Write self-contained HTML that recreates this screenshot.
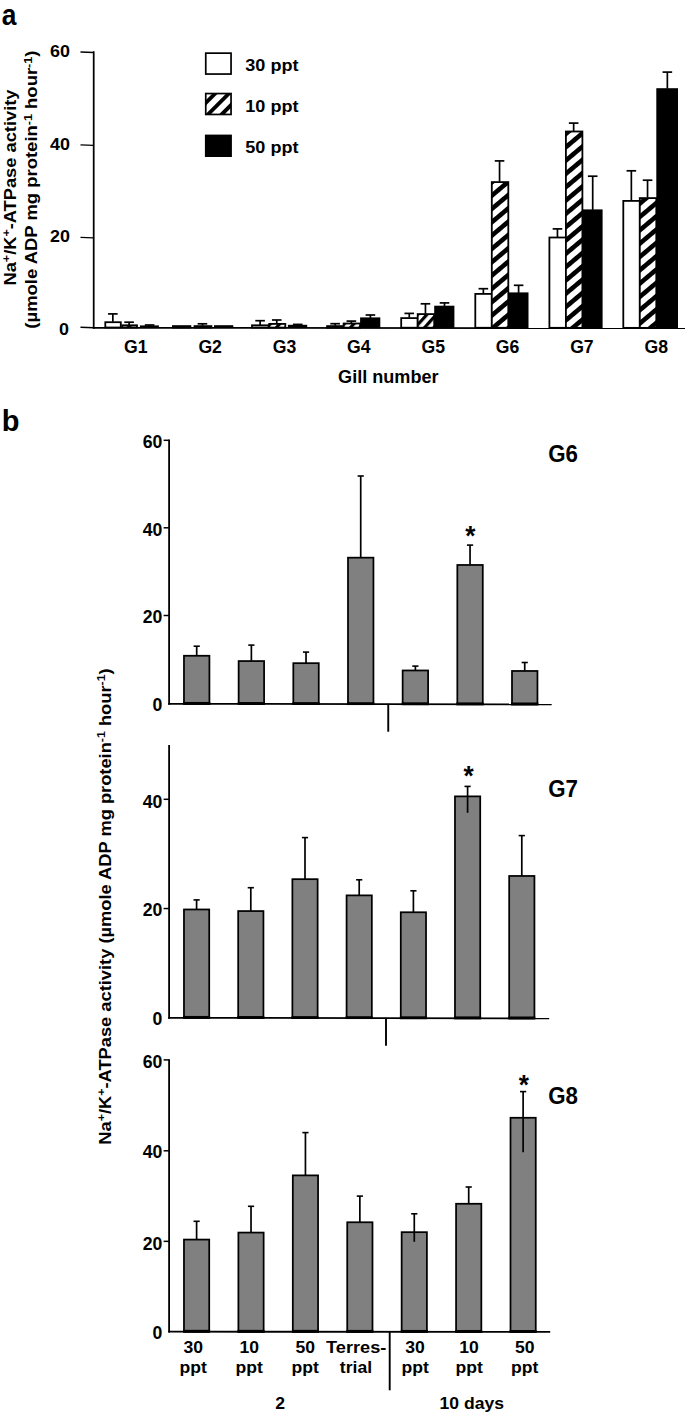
<!DOCTYPE html>
<html lang="en">
<head>
<meta charset="utf-8">
<title>Na+/K+-ATPase activity</title>
<style>
html,body{margin:0;padding:0;background:#fff;}
body{width:685px;height:1413px;overflow:hidden;}
svg{display:block;}
svg text{font-family:"Liberation Sans", Arial, Helvetica, sans-serif;fill:#000;}
</style>
</head>
<body>
<svg width="685" height="1413" viewBox="0 0 685 1413">
<defs>
<pattern id="hL" patternUnits="userSpaceOnUse" width="20" height="9.7" patternTransform="rotate(-45) translate(0,2.92)"><rect x="0" y="0" width="20" height="9.7" fill="#fff"/><rect x="0" y="0" width="20" height="3.9" fill="#000"/></pattern>
<pattern id="h0" patternUnits="userSpaceOnUse" width="20" height="7.0" patternTransform="rotate(-48) translate(0,4.87)"><rect x="0" y="0" width="20" height="7.0" fill="#fff"/><rect x="0" y="0" width="20" height="3.2" fill="#000"/></pattern>
<pattern id="h1" patternUnits="userSpaceOnUse" width="20" height="7.0" patternTransform="rotate(-48) translate(0,3.93)"><rect x="0" y="0" width="20" height="7.0" fill="#fff"/><rect x="0" y="0" width="20" height="3.2" fill="#000"/></pattern>
<pattern id="h2" patternUnits="userSpaceOnUse" width="20" height="7.0" patternTransform="rotate(-48) translate(0,3.00)"><rect x="0" y="0" width="20" height="7.0" fill="#fff"/><rect x="0" y="0" width="20" height="3.2" fill="#000"/></pattern>
<pattern id="h3" patternUnits="userSpaceOnUse" width="20" height="7.0" patternTransform="rotate(-48) translate(0,2.07)"><rect x="0" y="0" width="20" height="7.0" fill="#fff"/><rect x="0" y="0" width="20" height="3.2" fill="#000"/></pattern>
<pattern id="h4" patternUnits="userSpaceOnUse" width="20" height="7.0" patternTransform="rotate(-48) translate(0,1.14)"><rect x="0" y="0" width="20" height="7.0" fill="#fff"/><rect x="0" y="0" width="20" height="3.2" fill="#000"/></pattern>
<pattern id="h5" patternUnits="userSpaceOnUse" width="20" height="10.2" patternTransform="rotate(-40) translate(0,4.65)"><rect x="0" y="0" width="20" height="10.2" fill="#fff"/><rect x="0" y="0" width="20" height="4.6" fill="#000"/></pattern>
<pattern id="h6" patternUnits="userSpaceOnUse" width="20" height="10.2" patternTransform="rotate(-40) translate(0,4.95)"><rect x="0" y="0" width="20" height="10.2" fill="#fff"/><rect x="0" y="0" width="20" height="4.6" fill="#000"/></pattern>
<pattern id="h7" patternUnits="userSpaceOnUse" width="20" height="10.2" patternTransform="rotate(-40) translate(0,3.91)"><rect x="0" y="0" width="20" height="10.2" fill="#fff"/><rect x="0" y="0" width="20" height="4.6" fill="#000"/></pattern>
</defs>
<rect x="0" y="0" width="685" height="1413" fill="#fff"/>
<line x1="93.70" y1="51.20" x2="93.70" y2="328.75" stroke="#000" stroke-width="1.75" stroke-linecap="butt"/>
<line x1="93.20" y1="327.90" x2="685.00" y2="328.20" stroke="#000" stroke-width="1.75" stroke-linecap="butt"/>
<line x1="80.50" y1="52.05" x2="93.70" y2="52.55" stroke="#000" stroke-width="1.4" stroke-linecap="butt"/>
<text transform="translate(70.00,57.00) scale(1.03,1)" font-size="17.4" font-weight="bold" text-anchor="end">60</text>
<line x1="80.50" y1="144.90" x2="93.70" y2="145.40" stroke="#000" stroke-width="1.4" stroke-linecap="butt"/>
<text transform="translate(70.00,149.50) scale(1.03,1)" font-size="17.4" font-weight="bold" text-anchor="end">40</text>
<line x1="80.50" y1="237.35" x2="93.70" y2="237.85" stroke="#000" stroke-width="1.4" stroke-linecap="butt"/>
<text transform="translate(70.00,241.90) scale(1.03,1)" font-size="17.4" font-weight="bold" text-anchor="end">20</text>
<line x1="80.50" y1="327.25" x2="93.70" y2="327.75" stroke="#000" stroke-width="1.4" stroke-linecap="butt"/>
<text transform="translate(69.00,334.50) scale(1.03,1)" font-size="17.4" font-weight="bold" text-anchor="end">0</text>
<rect x="205.75" y="53.15" width="25.30" height="20.90" fill="#fff" stroke="#000" stroke-width="1.7"/>
<rect x="205.75" y="93.55" width="25.30" height="20.90" fill="url(#hL)" stroke="#000" stroke-width="1.7"/>
<rect x="205.75" y="135.45" width="25.30" height="20.70" fill="#000" stroke="#000" stroke-width="1.7"/>
<text transform="translate(245.30,71.10) scale(1.095,1)" font-size="16.5" font-weight="bold" text-anchor="start">30 ppt</text>
<text transform="translate(245.30,111.90) scale(1.095,1)" font-size="16.5" font-weight="bold" text-anchor="start">10 ppt</text>
<text transform="translate(245.30,153.20) scale(1.095,1)" font-size="16.5" font-weight="bold" text-anchor="start">50 ppt</text>
<line x1="112.85" y1="313.90" x2="112.85" y2="321.80" stroke="#000" stroke-width="1.7" stroke-linecap="butt"/>
<line x1="108.05" y1="313.90" x2="117.65" y2="313.90" stroke="#000" stroke-width="1.7" stroke-linecap="butt"/>
<line x1="129.10" y1="322.20" x2="129.10" y2="324.90" stroke="#000" stroke-width="1.7" stroke-linecap="butt"/>
<line x1="124.30" y1="322.20" x2="133.90" y2="322.20" stroke="#000" stroke-width="1.7" stroke-linecap="butt"/>
<line x1="149.60" y1="325.00" x2="149.60" y2="325.90" stroke="#000" stroke-width="1.7" stroke-linecap="butt"/>
<line x1="144.80" y1="325.00" x2="154.40" y2="325.00" stroke="#000" stroke-width="1.7" stroke-linecap="butt"/>
<rect x="105.30" y="322.20" width="15.50" height="5.31" fill="#fff" stroke="#000" stroke-width="1.8"/>
<rect x="122.20" y="325.30" width="14.80" height="2.21" fill="url(#h0)" stroke="#000" stroke-width="1.8"/>
<rect x="139.90" y="325.40" width="19.00" height="2.51" fill="#000" stroke="none" stroke-width="0"/>
<text transform="translate(135.80,353.10) scale(0.98,1)" font-size="18.0" font-weight="bold" text-anchor="middle">G1</text>
<line x1="202.45" y1="323.80" x2="202.45" y2="325.70" stroke="#000" stroke-width="1.7" stroke-linecap="butt"/>
<line x1="197.65" y1="323.80" x2="207.25" y2="323.80" stroke="#000" stroke-width="1.7" stroke-linecap="butt"/>
<rect x="172.90" y="326.10" width="17.50" height="1.45" fill="#fff" stroke="#000" stroke-width="1.8"/>
<rect x="194.50" y="326.10" width="16.90" height="1.45" fill="url(#h1)" stroke="#000" stroke-width="1.8"/>
<rect x="214.00" y="325.20" width="19.30" height="2.75" fill="#000" stroke="none" stroke-width="0"/>
<text transform="translate(210.15,353.10) scale(0.98,1)" font-size="18.0" font-weight="bold" text-anchor="middle">G2</text>
<line x1="260.10" y1="320.70" x2="260.10" y2="324.90" stroke="#000" stroke-width="1.7" stroke-linecap="butt"/>
<line x1="255.30" y1="320.70" x2="264.90" y2="320.70" stroke="#000" stroke-width="1.7" stroke-linecap="butt"/>
<line x1="276.75" y1="320.00" x2="276.75" y2="323.50" stroke="#000" stroke-width="1.7" stroke-linecap="butt"/>
<line x1="271.95" y1="320.00" x2="281.55" y2="320.00" stroke="#000" stroke-width="1.7" stroke-linecap="butt"/>
<line x1="297.75" y1="324.40" x2="297.75" y2="325.30" stroke="#000" stroke-width="1.7" stroke-linecap="butt"/>
<line x1="292.95" y1="324.40" x2="302.55" y2="324.40" stroke="#000" stroke-width="1.7" stroke-linecap="butt"/>
<rect x="252.00" y="325.30" width="16.60" height="2.31" fill="#fff" stroke="#000" stroke-width="1.8"/>
<rect x="269.20" y="323.90" width="16.10" height="3.71" fill="url(#h2)" stroke="#000" stroke-width="1.8"/>
<rect x="287.90" y="324.80" width="19.30" height="3.21" fill="#000" stroke="none" stroke-width="0"/>
<text transform="translate(284.50,353.10) scale(0.98,1)" font-size="18.0" font-weight="bold" text-anchor="middle">G3</text>
<line x1="335.15" y1="323.70" x2="335.15" y2="325.70" stroke="#000" stroke-width="1.7" stroke-linecap="butt"/>
<line x1="330.35" y1="323.70" x2="339.95" y2="323.70" stroke="#000" stroke-width="1.7" stroke-linecap="butt"/>
<line x1="351.35" y1="321.10" x2="351.35" y2="323.10" stroke="#000" stroke-width="1.7" stroke-linecap="butt"/>
<line x1="346.55" y1="321.10" x2="356.15" y2="321.10" stroke="#000" stroke-width="1.7" stroke-linecap="butt"/>
<line x1="370.40" y1="315.00" x2="370.40" y2="317.90" stroke="#000" stroke-width="1.7" stroke-linecap="butt"/>
<line x1="365.60" y1="315.00" x2="375.20" y2="315.00" stroke="#000" stroke-width="1.7" stroke-linecap="butt"/>
<rect x="327.10" y="326.10" width="16.50" height="1.56" fill="#fff" stroke="#000" stroke-width="1.8"/>
<rect x="343.60" y="323.50" width="16.50" height="4.16" fill="url(#h3)" stroke="#000" stroke-width="1.8"/>
<rect x="360.10" y="317.40" width="20.20" height="10.66" fill="#000" stroke="none" stroke-width="0"/>
<text transform="translate(358.85,353.10) scale(0.98,1)" font-size="18.0" font-weight="bold" text-anchor="middle">G4</text>
<line x1="409.25" y1="313.40" x2="409.25" y2="317.70" stroke="#000" stroke-width="1.7" stroke-linecap="butt"/>
<line x1="404.45" y1="313.40" x2="414.05" y2="313.40" stroke="#000" stroke-width="1.7" stroke-linecap="butt"/>
<line x1="425.45" y1="303.80" x2="425.45" y2="313.70" stroke="#000" stroke-width="1.7" stroke-linecap="butt"/>
<line x1="420.65" y1="303.80" x2="430.25" y2="303.80" stroke="#000" stroke-width="1.7" stroke-linecap="butt"/>
<line x1="444.50" y1="302.90" x2="444.50" y2="306.20" stroke="#000" stroke-width="1.7" stroke-linecap="butt"/>
<line x1="439.70" y1="302.90" x2="449.30" y2="302.90" stroke="#000" stroke-width="1.7" stroke-linecap="butt"/>
<rect x="401.20" y="318.10" width="16.50" height="9.61" fill="#fff" stroke="#000" stroke-width="1.8"/>
<rect x="417.70" y="314.10" width="16.50" height="13.61" fill="url(#h4)" stroke="#000" stroke-width="1.8"/>
<rect x="434.20" y="305.70" width="20.20" height="22.41" fill="#000" stroke="none" stroke-width="0"/>
<text transform="translate(433.20,353.10) scale(0.98,1)" font-size="18.0" font-weight="bold" text-anchor="middle">G5</text>
<line x1="483.35" y1="288.70" x2="483.35" y2="293.50" stroke="#000" stroke-width="1.7" stroke-linecap="butt"/>
<line x1="478.55" y1="288.70" x2="488.15" y2="288.70" stroke="#000" stroke-width="1.7" stroke-linecap="butt"/>
<line x1="499.55" y1="160.90" x2="499.55" y2="181.70" stroke="#000" stroke-width="1.7" stroke-linecap="butt"/>
<line x1="494.75" y1="160.90" x2="504.35" y2="160.90" stroke="#000" stroke-width="1.7" stroke-linecap="butt"/>
<line x1="518.60" y1="285.30" x2="518.60" y2="292.90" stroke="#000" stroke-width="1.7" stroke-linecap="butt"/>
<line x1="513.80" y1="285.30" x2="523.40" y2="285.30" stroke="#000" stroke-width="1.7" stroke-linecap="butt"/>
<rect x="475.30" y="293.90" width="16.50" height="33.87" fill="#fff" stroke="#000" stroke-width="1.8"/>
<rect x="491.80" y="182.10" width="16.50" height="145.67" fill="url(#h5)" stroke="#000" stroke-width="1.8"/>
<rect x="508.30" y="292.40" width="20.20" height="35.77" fill="#000" stroke="none" stroke-width="0"/>
<text transform="translate(507.55,353.10) scale(0.98,1)" font-size="18.0" font-weight="bold" text-anchor="middle">G6</text>
<line x1="557.45" y1="228.90" x2="557.45" y2="237.10" stroke="#000" stroke-width="1.7" stroke-linecap="butt"/>
<line x1="552.65" y1="228.90" x2="562.25" y2="228.90" stroke="#000" stroke-width="1.7" stroke-linecap="butt"/>
<line x1="573.65" y1="123.10" x2="573.65" y2="131.10" stroke="#000" stroke-width="1.7" stroke-linecap="butt"/>
<line x1="568.85" y1="123.10" x2="578.45" y2="123.10" stroke="#000" stroke-width="1.7" stroke-linecap="butt"/>
<line x1="592.70" y1="176.20" x2="592.70" y2="209.90" stroke="#000" stroke-width="1.7" stroke-linecap="butt"/>
<line x1="587.90" y1="176.20" x2="597.50" y2="176.20" stroke="#000" stroke-width="1.7" stroke-linecap="butt"/>
<rect x="549.40" y="237.50" width="16.50" height="90.32" fill="#fff" stroke="#000" stroke-width="1.8"/>
<rect x="565.90" y="131.50" width="16.50" height="196.32" fill="url(#h6)" stroke="#000" stroke-width="1.8"/>
<rect x="582.40" y="209.40" width="20.20" height="118.82" fill="#000" stroke="none" stroke-width="0"/>
<text transform="translate(581.90,353.10) scale(0.98,1)" font-size="18.0" font-weight="bold" text-anchor="middle">G7</text>
<line x1="631.35" y1="170.80" x2="631.35" y2="200.50" stroke="#000" stroke-width="1.7" stroke-linecap="butt"/>
<line x1="626.55" y1="170.80" x2="636.15" y2="170.80" stroke="#000" stroke-width="1.7" stroke-linecap="butt"/>
<line x1="647.55" y1="180.20" x2="647.55" y2="197.70" stroke="#000" stroke-width="1.7" stroke-linecap="butt"/>
<line x1="642.75" y1="180.20" x2="652.35" y2="180.20" stroke="#000" stroke-width="1.7" stroke-linecap="butt"/>
<line x1="667.35" y1="72.10" x2="667.35" y2="88.70" stroke="#000" stroke-width="1.7" stroke-linecap="butt"/>
<line x1="662.55" y1="72.10" x2="672.15" y2="72.10" stroke="#000" stroke-width="1.7" stroke-linecap="butt"/>
<rect x="623.30" y="200.90" width="16.50" height="126.97" fill="#fff" stroke="#000" stroke-width="1.8"/>
<rect x="639.80" y="198.10" width="16.50" height="129.77" fill="url(#h7)" stroke="#000" stroke-width="1.8"/>
<rect x="656.30" y="88.20" width="21.70" height="240.07" fill="#000" stroke="none" stroke-width="0"/>
<text transform="translate(656.25,353.10) scale(0.98,1)" font-size="18.0" font-weight="bold" text-anchor="middle">G8</text>
<text transform="translate(388.30,383.00) scale(1.028,1)" font-size="17.6" font-weight="bold" text-anchor="middle">Gill number</text>
<text transform="translate(15.50,187.50) rotate(-90) scale(1.095,1)" font-size="16.7" font-weight="bold" text-anchor="middle">Na<tspan font-size="68%" dy="-0.456em">+</tspan><tspan dy="0.31em">/K</tspan><tspan font-size="68%" dy="-0.456em">+</tspan><tspan dy="0.31em">-ATPase activity</tspan></text>
<text transform="translate(36.80,189.60) rotate(-90) scale(1.106,1)" font-size="16.7" font-weight="bold" text-anchor="middle">(µmole ADP mg protein<tspan font-size="68%" dy="-0.456em">-1</tspan><tspan dy="0.31em"> hour</tspan><tspan font-size="68%" dy="-0.456em">-1</tspan><tspan dy="0.31em">)</tspan></text>
<text transform="translate(1.70,24.70) scale(0.88,1)" font-size="30" font-weight="bold" text-anchor="start">a</text>
<text transform="translate(1.70,430.90)" font-size="29" font-weight="bold" text-anchor="start">b</text>
<line x1="169.10" y1="439.50" x2="169.10" y2="704.65" stroke="#000" stroke-width="1.8" stroke-linecap="butt"/>
<line x1="168.20" y1="703.80" x2="551.70" y2="704.45" stroke="#000" stroke-width="1.8" stroke-linecap="butt"/>
<line x1="163.60" y1="440.30" x2="169.10" y2="440.30" stroke="#000" stroke-width="1.5" stroke-linecap="butt"/>
<text transform="translate(162.30,447.70) scale(0.98,1)" font-size="18.0" font-weight="bold" text-anchor="end">60</text>
<line x1="163.60" y1="527.80" x2="169.10" y2="527.80" stroke="#000" stroke-width="1.5" stroke-linecap="butt"/>
<text transform="translate(162.30,535.70) scale(0.98,1)" font-size="18.0" font-weight="bold" text-anchor="end">40</text>
<line x1="163.60" y1="615.50" x2="169.10" y2="615.50" stroke="#000" stroke-width="1.5" stroke-linecap="butt"/>
<text transform="translate(162.30,623.00) scale(0.98,1)" font-size="18.0" font-weight="bold" text-anchor="end">20</text>
<text transform="translate(162.30,710.60) scale(0.98,1)" font-size="18.0" font-weight="bold" text-anchor="end">0</text>
<rect x="183.97" y="655.77" width="25.45" height="48.10" fill="#808080" stroke="#000" stroke-width="1.75"/>
<rect x="183.10" y="701.95" width="27.20" height="2.80" fill="#000" stroke="none" stroke-width="0"/>
<line x1="196.70" y1="646.20" x2="196.70" y2="655.60" stroke="#000" stroke-width="1.7" stroke-linecap="butt"/>
<line x1="193.60" y1="646.20" x2="199.80" y2="646.20" stroke="#000" stroke-width="1.6" stroke-linecap="butt"/>
<rect x="238.64" y="661.07" width="25.45" height="42.89" fill="#808080" stroke="#000" stroke-width="1.75"/>
<rect x="237.77" y="702.04" width="27.20" height="2.80" fill="#000" stroke="none" stroke-width="0"/>
<line x1="251.37" y1="645.10" x2="251.37" y2="660.90" stroke="#000" stroke-width="1.7" stroke-linecap="butt"/>
<line x1="248.27" y1="645.10" x2="254.47" y2="645.10" stroke="#000" stroke-width="1.6" stroke-linecap="butt"/>
<rect x="293.31" y="663.17" width="25.45" height="40.88" fill="#808080" stroke="#000" stroke-width="1.75"/>
<rect x="292.44" y="702.13" width="27.20" height="2.80" fill="#000" stroke="none" stroke-width="0"/>
<line x1="306.04" y1="652.10" x2="306.04" y2="663.00" stroke="#000" stroke-width="1.7" stroke-linecap="butt"/>
<line x1="302.94" y1="652.10" x2="309.14" y2="652.10" stroke="#000" stroke-width="1.6" stroke-linecap="butt"/>
<rect x="347.99" y="557.67" width="25.45" height="146.48" fill="#808080" stroke="#000" stroke-width="1.75"/>
<rect x="347.11" y="702.23" width="27.20" height="2.80" fill="#000" stroke="none" stroke-width="0"/>
<line x1="360.71" y1="476.00" x2="360.71" y2="557.50" stroke="#000" stroke-width="1.7" stroke-linecap="butt"/>
<line x1="357.61" y1="476.00" x2="363.81" y2="476.00" stroke="#000" stroke-width="1.6" stroke-linecap="butt"/>
<rect x="402.65" y="670.47" width="25.45" height="33.77" fill="#808080" stroke="#000" stroke-width="1.75"/>
<rect x="401.78" y="702.32" width="27.20" height="2.80" fill="#000" stroke="none" stroke-width="0"/>
<line x1="415.38" y1="666.10" x2="415.38" y2="670.30" stroke="#000" stroke-width="1.7" stroke-linecap="butt"/>
<line x1="412.28" y1="666.10" x2="418.48" y2="666.10" stroke="#000" stroke-width="1.6" stroke-linecap="butt"/>
<rect x="457.33" y="564.97" width="25.45" height="139.36" fill="#808080" stroke="#000" stroke-width="1.75"/>
<rect x="456.45" y="702.41" width="27.20" height="2.80" fill="#000" stroke="none" stroke-width="0"/>
<line x1="470.05" y1="545.10" x2="470.05" y2="564.80" stroke="#000" stroke-width="1.7" stroke-linecap="butt"/>
<line x1="466.95" y1="545.10" x2="473.15" y2="545.10" stroke="#000" stroke-width="1.6" stroke-linecap="butt"/>
<rect x="512.00" y="670.97" width="25.45" height="33.45" fill="#808080" stroke="#000" stroke-width="1.75"/>
<rect x="511.12" y="702.50" width="27.20" height="2.80" fill="#000" stroke="none" stroke-width="0"/>
<line x1="524.72" y1="662.50" x2="524.72" y2="670.80" stroke="#000" stroke-width="1.7" stroke-linecap="butt"/>
<line x1="521.62" y1="662.50" x2="527.82" y2="662.50" stroke="#000" stroke-width="1.6" stroke-linecap="butt"/>
<line x1="388.25" y1="703.80" x2="388.25" y2="731.70" stroke="#000" stroke-width="1.9" stroke-linecap="butt"/>
<text transform="translate(563.00,462.30) scale(0.91,1)" font-size="24.5" font-weight="bold" text-anchor="middle">G6</text>
<text transform="translate(470.40,544.80) scale(0.97,1)" font-size="27" font-weight="bold" text-anchor="middle">*</text>
<line x1="169.10" y1="745.00" x2="169.10" y2="1018.65" stroke="#000" stroke-width="1.8" stroke-linecap="butt"/>
<line x1="168.20" y1="1017.80" x2="549.20" y2="1018.45" stroke="#000" stroke-width="1.8" stroke-linecap="butt"/>
<line x1="163.60" y1="799.30" x2="169.10" y2="799.30" stroke="#000" stroke-width="1.5" stroke-linecap="butt"/>
<text transform="translate(162.30,807.80) scale(0.98,1)" font-size="18.0" font-weight="bold" text-anchor="end">40</text>
<line x1="163.60" y1="908.55" x2="169.10" y2="908.55" stroke="#000" stroke-width="1.5" stroke-linecap="butt"/>
<text transform="translate(162.30,916.00) scale(0.98,1)" font-size="18.0" font-weight="bold" text-anchor="end">20</text>
<text transform="translate(162.30,1024.85) scale(0.98,1)" font-size="18.0" font-weight="bold" text-anchor="end">0</text>
<rect x="183.97" y="909.47" width="25.25" height="108.40" fill="#808080" stroke="#000" stroke-width="1.75"/>
<rect x="183.10" y="1015.95" width="27.00" height="2.80" fill="#000" stroke="none" stroke-width="0"/>
<line x1="196.60" y1="899.90" x2="196.60" y2="909.30" stroke="#000" stroke-width="1.7" stroke-linecap="butt"/>
<line x1="193.50" y1="899.90" x2="199.70" y2="899.90" stroke="#000" stroke-width="1.6" stroke-linecap="butt"/>
<rect x="238.18" y="911.07" width="25.25" height="106.89" fill="#808080" stroke="#000" stroke-width="1.75"/>
<rect x="237.30" y="1016.04" width="27.00" height="2.80" fill="#000" stroke="none" stroke-width="0"/>
<line x1="250.80" y1="887.70" x2="250.80" y2="910.90" stroke="#000" stroke-width="1.7" stroke-linecap="butt"/>
<line x1="247.70" y1="887.70" x2="253.90" y2="887.70" stroke="#000" stroke-width="1.6" stroke-linecap="butt"/>
<rect x="292.38" y="879.17" width="25.25" height="138.88" fill="#808080" stroke="#000" stroke-width="1.75"/>
<rect x="291.50" y="1016.13" width="27.00" height="2.80" fill="#000" stroke="none" stroke-width="0"/>
<line x1="305.00" y1="837.60" x2="305.00" y2="879.00" stroke="#000" stroke-width="1.7" stroke-linecap="butt"/>
<line x1="301.90" y1="837.60" x2="308.10" y2="837.60" stroke="#000" stroke-width="1.6" stroke-linecap="butt"/>
<rect x="346.58" y="895.38" width="25.25" height="122.77" fill="#808080" stroke="#000" stroke-width="1.75"/>
<rect x="345.70" y="1016.22" width="27.00" height="2.80" fill="#000" stroke="none" stroke-width="0"/>
<line x1="359.20" y1="879.80" x2="359.20" y2="895.20" stroke="#000" stroke-width="1.7" stroke-linecap="butt"/>
<line x1="356.10" y1="879.80" x2="362.30" y2="879.80" stroke="#000" stroke-width="1.6" stroke-linecap="butt"/>
<rect x="400.77" y="912.27" width="25.25" height="105.97" fill="#808080" stroke="#000" stroke-width="1.75"/>
<rect x="399.90" y="1016.32" width="27.00" height="2.80" fill="#000" stroke="none" stroke-width="0"/>
<line x1="413.40" y1="890.80" x2="413.40" y2="912.10" stroke="#000" stroke-width="1.7" stroke-linecap="butt"/>
<line x1="410.30" y1="890.80" x2="416.50" y2="890.80" stroke="#000" stroke-width="1.6" stroke-linecap="butt"/>
<rect x="454.98" y="796.38" width="25.25" height="221.96" fill="#808080" stroke="#000" stroke-width="1.75"/>
<rect x="454.10" y="1016.41" width="27.00" height="2.80" fill="#000" stroke="none" stroke-width="0"/>
<line x1="467.60" y1="786.40" x2="467.60" y2="812.80" stroke="#000" stroke-width="1.7" stroke-linecap="butt"/>
<line x1="464.50" y1="786.40" x2="470.70" y2="786.40" stroke="#000" stroke-width="1.6" stroke-linecap="butt"/>
<rect x="509.18" y="875.97" width="25.25" height="142.45" fill="#808080" stroke="#000" stroke-width="1.75"/>
<rect x="508.30" y="1016.50" width="27.00" height="2.80" fill="#000" stroke="none" stroke-width="0"/>
<line x1="521.80" y1="835.60" x2="521.80" y2="875.80" stroke="#000" stroke-width="1.7" stroke-linecap="butt"/>
<line x1="518.70" y1="835.60" x2="524.90" y2="835.60" stroke="#000" stroke-width="1.6" stroke-linecap="butt"/>
<line x1="386.00" y1="1017.80" x2="386.00" y2="1045.70" stroke="#000" stroke-width="1.9" stroke-linecap="butt"/>
<text transform="translate(563.00,796.50) scale(0.91,1)" font-size="24.5" font-weight="bold" text-anchor="middle">G7</text>
<text transform="translate(468.70,785.20) scale(0.97,1)" font-size="27" font-weight="bold" text-anchor="middle">*</text>
<line x1="169.10" y1="1059.20" x2="169.10" y2="1332.55" stroke="#000" stroke-width="1.8" stroke-linecap="butt"/>
<line x1="168.20" y1="1331.70" x2="550.20" y2="1331.93" stroke="#000" stroke-width="1.8" stroke-linecap="butt"/>
<line x1="163.60" y1="1059.90" x2="169.10" y2="1059.90" stroke="#000" stroke-width="1.5" stroke-linecap="butt"/>
<text transform="translate(162.30,1068.05) scale(0.98,1)" font-size="18.0" font-weight="bold" text-anchor="end">60</text>
<line x1="163.60" y1="1150.80" x2="169.10" y2="1150.80" stroke="#000" stroke-width="1.5" stroke-linecap="butt"/>
<text transform="translate(162.30,1158.10) scale(0.98,1)" font-size="18.0" font-weight="bold" text-anchor="end">40</text>
<line x1="163.60" y1="1241.35" x2="169.10" y2="1241.35" stroke="#000" stroke-width="1.5" stroke-linecap="butt"/>
<text transform="translate(162.30,1249.50) scale(0.98,1)" font-size="18.0" font-weight="bold" text-anchor="end">20</text>
<text transform="translate(162.30,1339.00) scale(0.98,1)" font-size="18.0" font-weight="bold" text-anchor="end">0</text>
<rect x="183.97" y="1239.58" width="25.25" height="92.17" fill="#808080" stroke="#000" stroke-width="1.75"/>
<rect x="183.10" y="1329.82" width="27.00" height="2.80" fill="#000" stroke="none" stroke-width="0"/>
<line x1="196.60" y1="1221.30" x2="196.60" y2="1239.40" stroke="#000" stroke-width="1.7" stroke-linecap="butt"/>
<line x1="193.50" y1="1221.30" x2="199.70" y2="1221.30" stroke="#000" stroke-width="1.6" stroke-linecap="butt"/>
<rect x="238.39" y="1232.58" width="25.25" height="99.20" fill="#808080" stroke="#000" stroke-width="1.75"/>
<rect x="237.52" y="1329.85" width="27.00" height="2.80" fill="#000" stroke="none" stroke-width="0"/>
<line x1="251.02" y1="1206.30" x2="251.02" y2="1232.40" stroke="#000" stroke-width="1.7" stroke-linecap="butt"/>
<line x1="247.92" y1="1206.30" x2="254.12" y2="1206.30" stroke="#000" stroke-width="1.6" stroke-linecap="butt"/>
<rect x="292.81" y="1175.38" width="25.25" height="156.43" fill="#808080" stroke="#000" stroke-width="1.75"/>
<rect x="291.94" y="1329.88" width="27.00" height="2.80" fill="#000" stroke="none" stroke-width="0"/>
<line x1="305.44" y1="1132.60" x2="305.44" y2="1175.20" stroke="#000" stroke-width="1.7" stroke-linecap="butt"/>
<line x1="302.34" y1="1132.60" x2="308.54" y2="1132.60" stroke="#000" stroke-width="1.6" stroke-linecap="butt"/>
<rect x="347.24" y="1222.27" width="25.25" height="109.56" fill="#808080" stroke="#000" stroke-width="1.75"/>
<rect x="346.36" y="1329.91" width="27.00" height="2.80" fill="#000" stroke="none" stroke-width="0"/>
<line x1="359.86" y1="1196.10" x2="359.86" y2="1222.10" stroke="#000" stroke-width="1.7" stroke-linecap="butt"/>
<line x1="356.76" y1="1196.10" x2="362.96" y2="1196.10" stroke="#000" stroke-width="1.6" stroke-linecap="butt"/>
<rect x="401.65" y="1232.17" width="25.25" height="99.70" fill="#808080" stroke="#000" stroke-width="1.75"/>
<rect x="400.78" y="1329.95" width="27.00" height="2.80" fill="#000" stroke="none" stroke-width="0"/>
<line x1="414.28" y1="1213.80" x2="414.28" y2="1241.80" stroke="#000" stroke-width="1.7" stroke-linecap="butt"/>
<line x1="411.18" y1="1213.80" x2="417.38" y2="1213.80" stroke="#000" stroke-width="1.6" stroke-linecap="butt"/>
<rect x="456.08" y="1203.77" width="25.25" height="128.13" fill="#808080" stroke="#000" stroke-width="1.75"/>
<rect x="455.20" y="1329.98" width="27.00" height="2.80" fill="#000" stroke="none" stroke-width="0"/>
<line x1="468.70" y1="1187.00" x2="468.70" y2="1203.60" stroke="#000" stroke-width="1.7" stroke-linecap="butt"/>
<line x1="465.60" y1="1187.00" x2="471.80" y2="1187.00" stroke="#000" stroke-width="1.6" stroke-linecap="butt"/>
<rect x="510.50" y="1117.77" width="25.25" height="214.16" fill="#808080" stroke="#000" stroke-width="1.75"/>
<rect x="509.62" y="1330.01" width="27.00" height="2.80" fill="#000" stroke="none" stroke-width="0"/>
<line x1="523.12" y1="1091.60" x2="523.12" y2="1152.30" stroke="#000" stroke-width="1.7" stroke-linecap="butt"/>
<line x1="520.02" y1="1091.60" x2="526.22" y2="1091.60" stroke="#000" stroke-width="1.6" stroke-linecap="butt"/>
<line x1="389.70" y1="1331.70" x2="389.70" y2="1390.30" stroke="#000" stroke-width="1.9" stroke-linecap="butt"/>
<text transform="translate(563.00,1104.20) scale(0.91,1)" font-size="24.5" font-weight="bold" text-anchor="middle">G8</text>
<text transform="translate(523.80,1093.50) scale(0.97,1)" font-size="27" font-weight="bold" text-anchor="middle">*</text>
<text transform="translate(193.20,1352.60) scale(1.035,1)" font-size="17" font-weight="bold" text-anchor="middle">30</text>
<text transform="translate(193.20,1373.30) scale(1.035,1)" font-size="17" font-weight="bold" text-anchor="middle">ppt</text>
<text transform="translate(249.20,1352.60) scale(1.035,1)" font-size="17" font-weight="bold" text-anchor="middle">10</text>
<text transform="translate(249.20,1373.30) scale(1.035,1)" font-size="17" font-weight="bold" text-anchor="middle">ppt</text>
<text transform="translate(305.20,1352.60) scale(1.035,1)" font-size="17" font-weight="bold" text-anchor="middle">50</text>
<text transform="translate(305.20,1373.30) scale(1.035,1)" font-size="17" font-weight="bold" text-anchor="middle">ppt</text>
<text transform="translate(415.10,1352.60) scale(1.035,1)" font-size="17" font-weight="bold" text-anchor="middle">30</text>
<text transform="translate(415.10,1373.30) scale(1.035,1)" font-size="17" font-weight="bold" text-anchor="middle">ppt</text>
<text transform="translate(469.10,1352.60) scale(1.035,1)" font-size="17" font-weight="bold" text-anchor="middle">10</text>
<text transform="translate(469.10,1373.30) scale(1.035,1)" font-size="17" font-weight="bold" text-anchor="middle">ppt</text>
<text transform="translate(524.70,1352.60) scale(1.035,1)" font-size="17" font-weight="bold" text-anchor="middle">50</text>
<text transform="translate(524.70,1373.30) scale(1.035,1)" font-size="17" font-weight="bold" text-anchor="middle">ppt</text>
<text transform="translate(356.20,1352.60) scale(1.07,1)" font-size="17" font-weight="bold" text-anchor="middle">Terres-</text>
<text transform="translate(356.00,1373.30) scale(1.035,1)" font-size="17" font-weight="bold" text-anchor="middle">trial</text>
<text transform="translate(280.20,1408.50) scale(1.035,1)" font-size="17" font-weight="bold" text-anchor="middle">2</text>
<text transform="translate(471.80,1408.50) scale(1.035,1)" font-size="17" font-weight="bold" text-anchor="middle">10 days</text>
<text transform="translate(110.60,906.50) rotate(-90) scale(1.076,1)" font-size="17.0" font-weight="bold" text-anchor="middle">Na<tspan font-size="68%" dy="-0.456em">+</tspan><tspan dy="0.31em">/K</tspan><tspan font-size="68%" dy="-0.456em">+</tspan><tspan dy="0.31em">-ATPase activity (µmole ADP mg protein</tspan><tspan font-size="68%" dy="-0.456em">-1</tspan><tspan dy="0.31em"> hour</tspan><tspan font-size="68%" dy="-0.456em">-1</tspan><tspan dy="0.31em">)</tspan></text>
</svg>
</body>
</html>
